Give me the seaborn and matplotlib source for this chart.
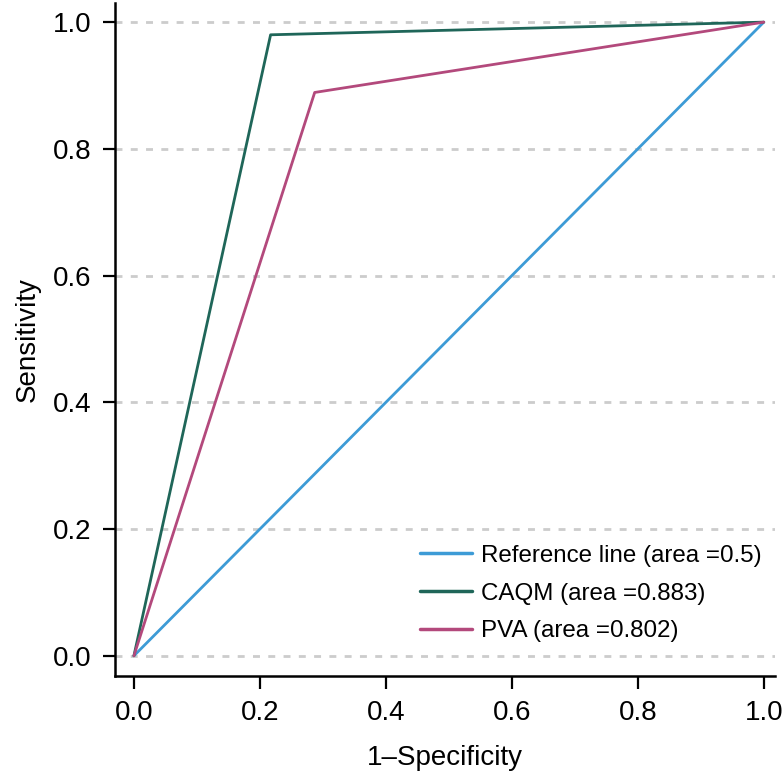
import pandas as pd
import numpy as np
import matplotlib.pyplot as plt
import seaborn as sns

sns.set_style("ticks")
plt.rcParams['font.family'] = ['Liberation Sans', 'DejaVu Sans']
plt.rcParams['text.color'] = 'black'
plt.rcParams['axes.labelcolor'] = 'black'

# ROC points
ref_x = [0.0, 1.0]
ref_y = [0.0, 1.0]
caqm_x = [0.0, 0.217, 1.0]
caqm_y = [0.0, 0.98, 1.0]
pva_x = [0.0, 0.287, 1.0]
pva_y = [0.0, 0.889, 1.0]

labels = ["Reference line (area =0.5)", "CAQM (area =0.883)", "PVA (area =0.802)"]
colors = ["#3d9bd6", "#1f6659", "#b3497c"]

df = pd.concat([
    pd.DataFrame({'fpr': ref_x, 'tpr': ref_y, 'curve': labels[0]}),
    pd.DataFrame({'fpr': caqm_x, 'tpr': caqm_y, 'curve': labels[1]}),
    pd.DataFrame({'fpr': pva_x, 'tpr': pva_y, 'curve': labels[2]}),
], ignore_index=True)

fig = plt.figure(figsize=(7.84, 7.78), dpi=100)
ax = fig.add_axes([0.1467, 0.131, 0.842, 0.865])

# dotted grid lines
for yv in np.arange(0, 1.01, 0.2):
    ax.axhline(yv, color="#cccccc", lw=2, ls=(0, (2.5, 3)), zorder=0)

sns.lineplot(data=df, x='fpr', y='tpr', hue='curve', hue_order=labels,
             palette=colors, sort=False, estimator=None, lw=2, ax=ax)

ax.set_xlim(-0.03, 1.018)
ax.set_ylim(-0.032, 1.03)
ax.set_xticks(np.arange(0, 1.01, 0.2))
ax.set_yticks(np.arange(0, 1.01, 0.2))
ax.set_xticklabels([f"{v:.1f}" for v in np.arange(0, 1.01, 0.2)])
ax.set_yticklabels([f"{v:.1f}" for v in np.arange(0, 1.01, 0.2)])
ax.tick_params(labelsize=20, length=9, width=1.6, colors="black", pad=8)
ax.set_xlabel("1–Specificity", fontsize=20, labelpad=14)
ax.set_ylabel("Sensitivity", fontsize=20, labelpad=9)
for side in ['left', 'bottom']:
    ax.spines[side].set_linewidth(1.8)
    ax.spines[side].set_color("black")
sns.despine(ax=ax)

leg = ax.legend(loc="lower right", frameon=False, fontsize=17.4,
                handlelength=2.15, handletextpad=0.35, labelspacing=0.65,
                bbox_to_anchor=(1.012, 0.018))
for line in leg.get_lines():
    line.set_linewidth(2.5)

plt.savefig("out.png", dpi=100)
